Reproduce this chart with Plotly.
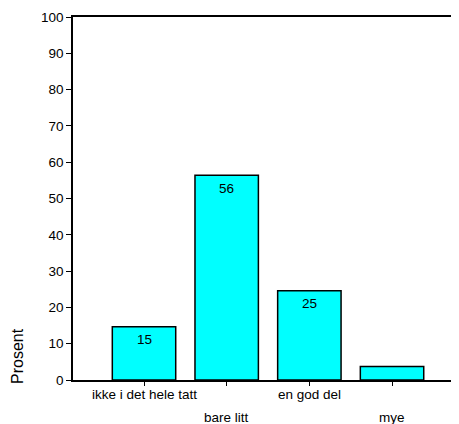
import plotly.graph_objects as go

categories = ["ikke i det hele tatt", "bare litt", "en god del", "mye"]
values = [14.7, 56.4, 24.6, 3.7]
y_ticks = list(range(0, 101, 10))
y_title = "Prosent"

FONT = "Liberation Sans, Arial, sans-serif"
x_idx = list(range(len(categories)))
labels = [f"{v:.0f}" if v >= 5 else "" for v in values]

fig = go.Figure()
fig.add_trace(go.Bar(
    x=x_idx, y=values, width=0.767,
    marker=dict(color="#00FFFF", line=dict(color="black", width=1.5)),
    hoverinfo="skip",
))

annotations = []
for i, v in enumerate(values):
    if labels[i]:
        annotations.append(dict(
            x=i, xref="x", y=v, yref="y", yanchor="middle", yshift=-13,
            text=labels[i], showarrow=False,
            font=dict(family=FONT, size=13.5, color="black"),
        ))
for i, c in enumerate(categories):
    annotations.append(dict(
        x=i, xref="x", y=0, yref="paper", yanchor="middle",
        yshift=-14 if i % 2 == 0 else -37, text=c, showarrow=False,
        font=dict(family=FONT, size=13.5, color="black"),
    ))
annotations.append(dict(
    x=0, xref="paper", xshift=-56, xanchor="center",
    y=0, yref="paper", yshift=24, yanchor="middle",
    text=y_title, textangle=-90, showarrow=False,
    font=dict(family=FONT, size=16, color="black"),
))

fig.update_layout(
    width=451, height=416,
    margin=dict(l=65, r=0, t=9, b=44),
    paper_bgcolor="white", plot_bgcolor="white",
    showlegend=False,
    font=dict(family=FONT, size=13.5, color="black"),
    xaxis=dict(
        range=[-0.859, 3.81], tickvals=x_idx, ticktext=[""] * len(x_idx),
        showgrid=False, zeroline=False, showline=True, linecolor="black",
        linewidth=1.5, mirror=True, ticks="outside", ticklen=4,
        tickcolor="black", fixedrange=True,
    ),
    yaxis=dict(
        range=[0, 100], tickvals=y_ticks, showgrid=False, zeroline=False,
        showline=True, linecolor="black", linewidth=1.5, ticks="outside",
        ticklen=5, tickcolor="black", tickfont=dict(family=FONT, size=13.5),
        fixedrange=True,
    ),
    annotations=annotations,
)

fig.write_html("out.html")
